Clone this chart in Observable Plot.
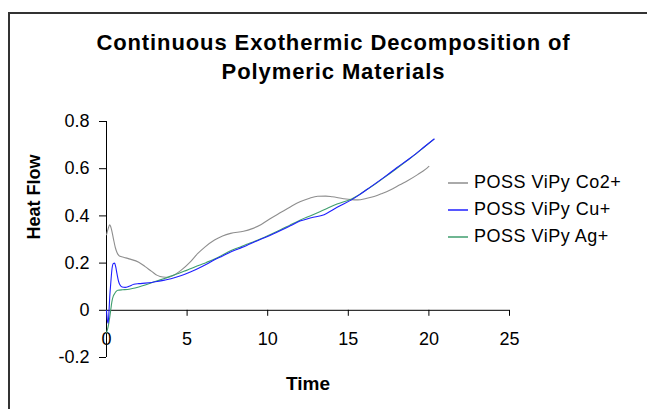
<!DOCTYPE html>
<html>
<head>
<meta charset="utf-8">
<script src="https://cdn.jsdelivr.net/npm/d3@7"></script>
<script src="https://cdn.jsdelivr.net/npm/@observablehq/plot@0.6"></script>
<style>
  html, body { margin: 0; padding: 0; background: #fff; }
  #wrap { position: relative; width: 647px; height: 409px; overflow: hidden; font-family: "Liberation Sans", Arial, sans-serif; }
  #frame { position: absolute; left: 8px; top: 12px; width: 700px; height: 500px; border-left: 2px solid #333; border-top: 2px solid #333; }
  #title { position: absolute; left: 0; width: 667px; top: 28px; text-align: center; font-weight: bold; font-size: 22px; line-height: 29px; letter-spacing: 0.9px; color: #000; }
  #chart { position: absolute; left: 0; top: 95px; }
  #legend { position: absolute; left: 448px; top: 169px; font-size: 18px; letter-spacing: 0.5px; color: #000; }
  .row { height: 27px; display: flex; align-items: center; }
  .sw { width: 20px; height: 2px; margin-right: 6px; opacity: 0.75; }
</style>
</head>
<body>
<div id="wrap">
  <div id="frame"></div>
  <div id="title"></div>
  <div id="chart"></div>
  <div id="legend"></div>
</div>
<script>
const titleLines = ["Continuous Exothermic Decomposition of", "Polymeric Materials"];
const xLabel = "Time";
const yLabel = "Heat Flow";
const seriesNames = ["POSS ViPy Co2+", "POSS ViPy Cu+", "POSS ViPy Ag+"];
const seriesColors = ["#8e8e8e", "#1f1fff", "#3f9e6e"];
const xTicks = [0, 5, 10, 15, 20, 25];
const yTicks = [-0.2, 0, 0.2, 0.4, 0.6, 0.8];
const xDomain = [0, 25];
const yDomain = [-0.2, 0.8];

const co2Time = [0, 0.1, 0.2, 0.3, 0.43, 0.55, 0.65, 0.8, 1.1, 1.4, 2.0, 2.4, 2.8, 3.15, 3.5, 3.8, 4.1, 4.6, 5.2, 5.65, 6.1, 6.7, 7.2, 7.7, 8.5, 9.0, 9.6, 10.2, 10.8, 11.4, 12.0, 12.6, 13.1, 13.6, 14.0, 14.7, 15.2, 15.6, 16.1, 16.6, 17.1, 17.6, 18.2, 18.7, 19.3, 19.8, 20.0];
const co2Flow = [0.32, 0.345, 0.362, 0.345, 0.303, 0.265, 0.245, 0.23, 0.224, 0.218, 0.204, 0.185, 0.165, 0.148, 0.141, 0.14, 0.146, 0.168, 0.205, 0.24, 0.268, 0.298, 0.315, 0.326, 0.335, 0.345, 0.364, 0.39, 0.414, 0.438, 0.46, 0.475, 0.483, 0.484, 0.481, 0.473, 0.469, 0.468, 0.474, 0.482, 0.495, 0.51, 0.532, 0.55, 0.575, 0.598, 0.61];

const cuTime = [0, 0.05, 0.1, 0.15, 0.2, 0.27, 0.34, 0.42, 0.5, 0.57, 0.65, 0.75, 0.85, 0.97, 1.16, 1.4, 1.7, 2.0, 2.4, 2.8, 3.15, 3.6, 4.0, 4.6, 5.2, 5.65, 6.2, 6.7, 7.2, 7.7, 8.2, 8.7, 9.2, 9.8, 10.3, 10.8, 11.4, 12.0, 12.7, 13.5, 14.0, 14.4, 15.2, 15.7, 16.2, 16.8, 17.4, 18.0, 18.7, 19.2, 19.7, 20.33];
const cuFlow = [0.0, -0.04, -0.055, -0.01, 0.056, 0.12, 0.175, 0.198, 0.2, 0.185, 0.155, 0.122, 0.106, 0.099, 0.097, 0.102, 0.11, 0.113, 0.115, 0.118, 0.122, 0.128, 0.134, 0.146, 0.162, 0.176, 0.195, 0.214, 0.23, 0.247, 0.261, 0.275, 0.29, 0.307, 0.322, 0.338, 0.358, 0.378, 0.392, 0.405, 0.424, 0.44, 0.468, 0.49, 0.514, 0.543, 0.573, 0.604, 0.638, 0.664, 0.692, 0.726];

const agTime = [0, 0.1, 0.2, 0.28, 0.33, 0.42, 0.5, 0.6, 0.7, 1.0, 1.3, 1.6, 2.0, 2.4, 2.8, 3.2, 3.6, 4.0, 4.4, 4.8, 5.2, 5.7, 6.2, 6.7, 7.2, 7.7, 8.2, 8.7, 9.2, 9.8, 10.3, 10.8, 11.4, 12.0, 12.7, 13.5, 14.3, 15.2, 15.7, 16.2, 16.8, 17.4, 18.0, 18.7, 19.2, 19.7, 20.3];
const agFlow = [-0.095, -0.07, -0.03, 0.01, 0.035, 0.06, 0.07, 0.08, 0.085, 0.087, 0.088, 0.092, 0.099, 0.107, 0.117, 0.126, 0.135, 0.145, 0.155, 0.165, 0.176, 0.19, 0.203, 0.217, 0.234, 0.252, 0.266, 0.28, 0.293, 0.31, 0.325, 0.341, 0.362, 0.382, 0.402, 0.426, 0.45, 0.472, 0.491, 0.514, 0.541, 0.571, 0.601, 0.637, 0.663, 0.691, 0.724];

const rows = (name, ts, vs) => ts.map((t, i) => ({series: name, t, v: vs[i]}));
const co2 = rows(seriesNames[0], co2Time, co2Flow);
const cu = rows(seriesNames[1], cuTime, cuFlow);
const ag = rows(seriesNames[2], agTime, agFlow);

document.getElementById("title").innerHTML = titleLines.join("<br>");

const chart = Plot.plot({
  width: 647,
  height: 314,
  marginLeft: 106,
  marginRight: 138,
  marginTop: 26,
  marginBottom: 52,
  style: {fontFamily: "'Liberation Sans', Arial, sans-serif", fontSize: "18px", color: "#000", background: "transparent"},
  x: {domain: xDomain, axis: null},
  y: {domain: yDomain, axis: null},
  marks: [
    Plot.axisY({ticks: yTicks, tickSize: 7, tickPadding: 10, tickFormat: d => String(+d.toFixed(1)), label: null, stroke: "#000"}),
    Plot.ruleX([xDomain[0]], {stroke: "#000"}),
    Plot.ruleY([0], {x1: xDomain[0], x2: xDomain[1], stroke: "#000"}),
    Plot.ruleX(xTicks.slice(1), {x: d => d, y1: d => 0, y2: d => 0, insetBottom: -6, stroke: "#000"}),
    Plot.text(xTicks, {x: d => d, y: d => 0, text: d => String(d), dy: 29, fill: "#000"}),
    Plot.line(co2, {x: "t", y: "v", stroke: seriesColors[0], strokeWidth: 1.1, curve: "monotone-x"}),
    Plot.line(ag, {x: "t", y: "v", stroke: seriesColors[2], strokeWidth: 1.1, curve: "monotone-x"}),
    Plot.line(cu, {x: "t", y: "v", stroke: seriesColors[1], strokeWidth: 1.1, curve: "monotone-x"}),
    Plot.text([xLabel], {frameAnchor: "bottom", dy: 32, fontWeight: "bold", fontSize: 19, fill: "#000"}),
    Plot.text([yLabel], {frameAnchor: "left", rotate: -90, dx: -72, fontWeight: "bold", fontSize: 18, fill: "#000"})
  ]
});
document.getElementById("chart").appendChild(chart);

const legend = document.getElementById("legend");
seriesNames.forEach((name, i) => {
  const row = document.createElement("div");
  row.className = "row";
  const sw = document.createElement("div");
  sw.className = "sw";
  sw.style.background = seriesColors[i];
  const label = document.createElement("span");
  label.textContent = name;
  row.appendChild(sw);
  row.appendChild(label);
  legend.appendChild(row);
});
</script>
</body>
</html>
